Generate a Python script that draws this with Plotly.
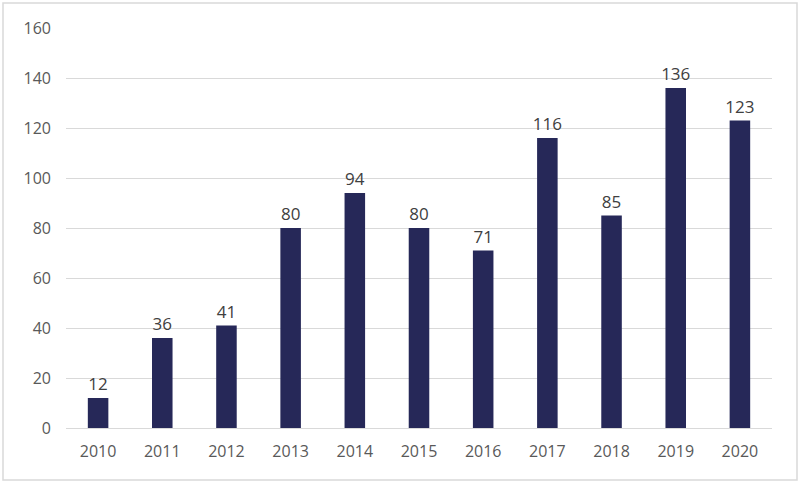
from plotly import graph_objects as go

years = ["2010", "2011", "2012", "2013", "2014", "2015", "2016", "2017", "2018", "2019", "2020"]
counts = [12, 36, 41, 80, 94, 80, 71, 116, 85, 136, 123]
y_ticks = [0, 20, 40, 60, 80, 100, 120, 140, 160]

fig = go.Figure()

fig.add_trace(go.Bar(
    x=years,
    y=counts,
    marker=dict(color="#262858", line=dict(width=0)),
    text=counts,
    textposition="outside",
    constraintext="none",
    textfont=dict(size=17, color="#404040"),
    cliponaxis=False,
))

fig.update_layout(
    width=800,
    height=483,
    margin=dict(l=66, r=28, t=28, b=55),
    plot_bgcolor="white",
    paper_bgcolor="white",
    font=dict(family="Open Sans, Liberation Sans, sans-serif", size=16, color="#595959"),
    bargap=0.68,
    showlegend=False,
    xaxis=dict(
        type="category",
        showgrid=False,
        showline=True,
        linecolor="#d9d9d9",
        linewidth=1,
        ticks="",
        ticklabelstandoff=9,
    ),
    yaxis=dict(
        range=[0, 160],
        tickvals=y_ticks,
        showgrid=True,
        gridcolor="#d9d9d9",
        gridwidth=1,
        zeroline=False,
        showline=False,
        ticks="",
        ticklabelstandoff=14,
    ),
)

# light border around the whole chart
fig.add_shape(
    type="rect",
    xref="paper", yref="paper",
    x0=(3 - 66) / 706, x1=(797 - 66) / 706,
    y0=(428 - 480) / 400, y1=(428 - 3) / 400,
    line=dict(color="#d9d9d9", width=1.5),
    layer="below",
)

fig.write_html("out.html", config={"displayModeBar": False},
               post_script="document.body.style.margin='0';")
